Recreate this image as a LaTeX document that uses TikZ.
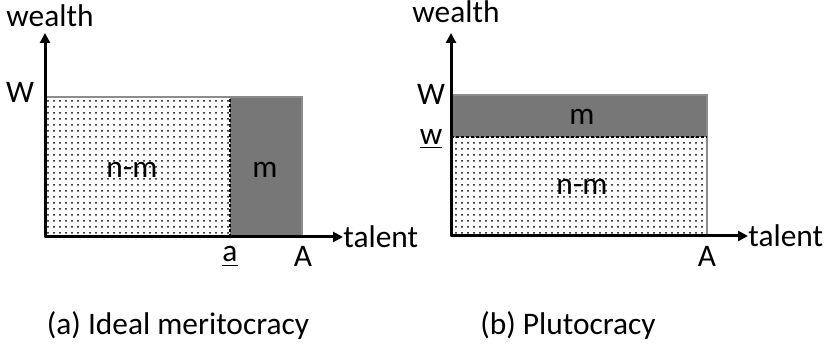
\documentclass[tikz,border=0pt]{standalone}
\usepackage{fontspec}
\setmainfont{Carlito}
\usepackage{tikz}
\usetikzlibrary{
    arrows.meta,
    patterns,
    positioning
}

\definecolor{richColor}{HTML}{777777}
\definecolor{edgeColor}{HTML}{8C8C8C}

\tikzset{
    axis/.style={line width=1.5pt, -{Triangle[length=5pt, width=5pt]}},
    lbl/.style={font=\fontsize{15.7}{18}\selectfont, inner sep=0pt, anchor=base},
    poor/.style={pattern=dots, pattern color=black},
    rich/.style={fill=richColor},
    edge/.style={draw=edgeColor, line width=0.6pt},
    split/.style={line width=1pt, dash pattern=on 1.5pt off 1pt}
}

\begin{document}
\begin{tikzpicture}[x=0.5pt, y=0.5pt]

\useasboundingbox (0,0) rectangle (827,347);

% (a) Ideal meritocracy
\coordinate (oA) at (45,110);
\coordinate (yA) at (45,314);
\coordinate (xA) at (343,110);
\coordinate (cutA) at (230,110);
\coordinate (topA) at (302,250);

\fill[poor] (oA) rectangle (230,250);
\fill[rich] (cutA) rectangle (topA);
\draw[edge] (oA) rectangle (topA);
\draw[split] (cutA) -- (230,250);

\draw[axis] (oA) -- (yA);
\draw[axis] (oA) -- (xA);

\node[lbl] (wealthA) at (50,320) {wealth};
\node[lbl] (WA) at (20,244) {W};
\node[lbl, anchor=west] (talentA) at (xA) {talent};
\node[lbl] (aA) at (230,85) {\underline{a}};
\node[lbl] (AA) at (303,80) {A};
\node[lbl, anchor=center] (nmA) at (132,177) {n-m};
\node[lbl, anchor=center] (mA) at (265,177) {m};
\node[lbl] (capA) at (178,12) {(a) Ideal meritocracy};

% (b) Plutocracy
\coordinate (oB) at (451,111);
\coordinate (yB) at (451,314);
\coordinate (xB) at (748,111);
\coordinate (cutB) at (451,210);
\coordinate (topB) at (707,252);

\fill[poor] (oB) rectangle (707,210);
\fill[rich] (cutB) rectangle (topB);
\draw[edge] (oB) rectangle (topB);
\draw[split] (cutB) -- (707,210);

\draw[axis] (oB) -- (yB);
\draw[axis] (oB) -- (xB);

\node[lbl] (wealthB) at (456,324) {wealth};
\node[lbl] (WB) at (431,242) {W};
\node[lbl] (wB) at (431,202) {\underline{w}};
\node[lbl, anchor=west] (talentB) at (xB) {talent};
\node[lbl] (AB) at (707,80) {A};
\node[lbl, anchor=center] (mB) at (582,230) {m};
\node[lbl, anchor=center] (nmB) at (582,160) {n-m};
\node[lbl] (capB) at (568,12) {(b) Plutocracy};

\end{tikzpicture}
\end{document}
